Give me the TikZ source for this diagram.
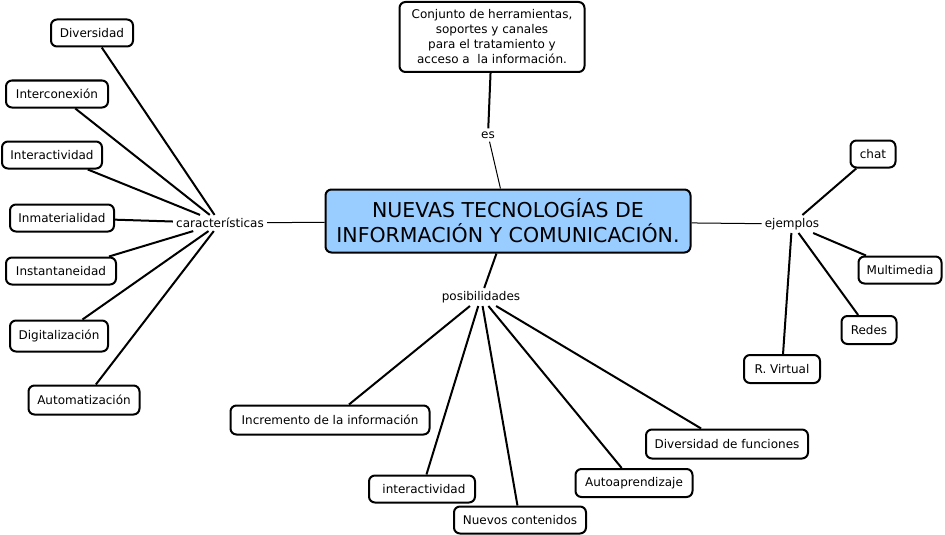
\documentclass[tikz,border=0pt]{standalone}
\usepackage{fontspec}
\setmainfont{DejaVu Sans}
\definecolor{ctrblue}{RGB}{153,204,255}
\begin{document}
\begin{tikzpicture}[x=1pt,y=-1pt,
  box/.style={draw, line width=2pt, rounded corners=6pt, fill=white,
    font=\fontsize{12}{14}\selectfont, inner xsep=6pt, inner ysep=3pt, minimum height=27pt},
  lbl/.style={font=\fontsize{12}{14}\selectfont, inner sep=3pt},
  link/.style={line width=2pt},
  thinlink/.style={line width=1pt}]
\useasboundingbox[fill=white] (0,0) rectangle (945,535);

% central
\node[box, fill=ctrblue, minimum width=365pt, minimum height=63pt, align=center,
  font=\fontsize{20.5}{25}\selectfont] (ctr) at (508,221)
  {NUEVAS TECNOLOGÍAS DE\\INFORMACIÓN Y COMUNICACIÓN.};
\node[box, minimum width=185pt, minimum height=70pt, align=center,
  font=\fontsize{12}{15}\selectfont] (top) at (492,37)
  {Conjunto de herramientas,\\soportes y canales\\para el tratamiento y\\acceso a\ \ la información.};

% labels
\node[lbl] (car) at (220,223) {características};
\node[lbl] (es) at (488,135) {es};
\node[lbl] (pos) at (481,297) {posibilidades};
\node[lbl] (ej) at (792,224) {ejemplos};

% características
\node[box, minimum width=82pt] (div) at (92,33) {Diversidad};
\node[box, minimum width=102pt] (intc) at (57,94) {Interconexión};
\node[box, minimum width=100pt] (inta) at (52,155) {Interactividad};
\node[box, minimum width=104pt] (inma) at (62,218) {Inmaterialidad};
\node[box, minimum width=110pt] (inst) at (61,271) {Instantaneidad};
\node[box, minimum width=98pt, minimum height=31pt] (digi) at (59,336) {Digitalización};
\node[box, minimum width=111pt, minimum height=29pt] (auto) at (84,400) {Automatización};

% ejemplos
\node[box, minimum width=45pt] (chat) at (873,154) {chat};
\node[box, minimum width=83pt] (mult) at (900,270) {Multimedia};
\node[box, minimum width=55pt, minimum height=28pt] (red) at (869,330) {Redes};
\node[box, minimum width=76pt, minimum height=28pt] (rv) at (782,369) {R. Virtual};

% posibilidades
\node[box, minimum width=199pt, minimum height=29pt] (incr) at (330,420) {Incremento de la información};
\node[box, minimum width=106pt] (intv) at (422,489) {\ interactividad};
\node[box, minimum width=132pt] (nuev) at (520,520) {Nuevos contenidos};
\node[box, minimum width=117pt, minimum height=28pt] (apr) at (634,483) {Autoaprendizaje};
\node[box, minimum width=162pt, minimum height=29pt] (divf) at (727,444) {Diversidad de funciones};

% connectors
\foreach \n in {div,intc,inta,inma,inst,digi,auto} \draw[link] (\n) -- (car);
\draw[thinlink] (car) -- (ctr);
\draw[link] (top) -- (es);
\draw[thinlink] (es) -- (ctr);
\draw[link] (ctr) -- (pos);
\foreach \n in {incr,intv,nuev,apr,divf} \draw[link] (pos) -- (\n);
\draw[thinlink] (ctr) -- (ej);
\foreach \n in {chat,mult,red,rv} \draw[link] (ej) -- (\n);
\end{tikzpicture}
\end{document}
